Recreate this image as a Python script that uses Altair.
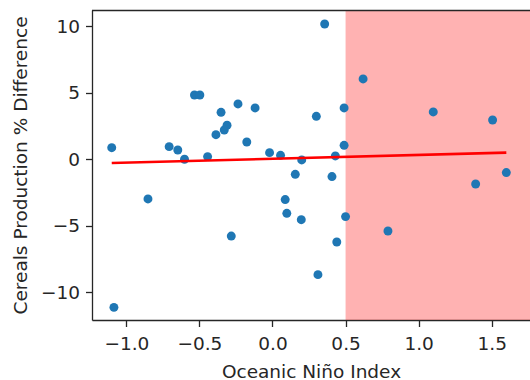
import altair as alt
import pandas as pd

# Oceanic Niño Index values (x) and cereal production % difference (y)
oni = [0.357, -0.534, -0.497, -0.236, -0.119, -0.352, 0.30, 0.49, -0.311, -0.33,
       -0.387, -0.176, -1.10, -0.707, -0.648, -0.602, -0.444, -0.02, 0.055, 0.20,
       0.43, 0.49, 0.156, 0.407, -0.852, 0.087, 0.098, 0.197, 0.50, -0.282,
       0.44, 0.311, -1.085, 0.62, 1.10, 1.506, 1.60, 1.39, 0.79]
cereal_diff = [10.17, 4.83, 4.83, 4.16, 3.86, 3.53, 3.23, 3.86, 2.56, 2.2,
               1.85, 1.30, 0.87, 0.95, 0.70, 0.0, 0.2, 0.5, 0.3, -0.05,
               0.25, 1.05, -1.13, -1.3, -2.98, -3.03, -4.06, -4.54, -4.31, -5.77,
               -6.22, -8.67, -11.13, 6.04, 3.56, 2.95, -1.0, -1.86, -5.39]

# El Niño shaded region
band_start = [0.5]
band_end = [1.9]

x_ticks = [-1.0, -0.5, 0.0, 0.5, 1.0, 1.5]
y_ticks = [-10, -5, 0, 5, 10]

W, H = 438, 310

df = pd.DataFrame({"oni": oni, "diff": cereal_diff})
band_df = pd.DataFrame({"x0": band_start, "x1": band_end})

xscale = alt.Scale(domain=[-1.235, 1.762], nice=False, zero=False)
yscale = alt.Scale(domain=[-12.08, 11.22], nice=False, zero=False)

FONT = "DejaVu Sans"
FS = 18.5
INK = "#262626"

xaxis = alt.Axis(values=x_ticks, format=".1f", grid=False, tickSize=6.5, labelPadding=8,
                 labelFontSize=FS, titleFontSize=FS, titlePadding=9,
                 labelColor=INK, titleColor=INK, domainColor=INK, tickColor=INK,
                 domainWidth=1.3, tickWidth=1.3,
                 labelFont=FONT, titleFont=FONT, titleFontWeight="normal")
yaxis = alt.Axis(values=y_ticks, format="d", grid=False, tickSize=6.5, labelPadding=6,
                 labelFontSize=FS, titleFontSize=FS, titlePadding=10,
                 labelColor=INK, titleColor=INK, domainColor=INK, tickColor=INK,
                 domainWidth=1.3, tickWidth=1.3,
                 labelFont=FONT, titleFont=FONT, titleFontWeight="normal")

band = alt.Chart(band_df).mark_rect(color="red", opacity=0.3, clip=True).encode(
    x=alt.X("x0:Q", scale=xscale, axis=xaxis, title="Oceanic Niño Index"),
    x2="x1:Q",
    y=alt.value(0),
    y2=alt.value(H),
)

points = alt.Chart(df).mark_circle(color="#1f77b4", opacity=1, size=80).encode(
    x=alt.X("oni:Q", scale=xscale),
    y=alt.Y("diff:Q", scale=yscale, axis=yaxis, title="Cereals Production % Difference"),
)

reg = alt.Chart(df).transform_regression("oni", "diff").mark_line(color="red", strokeWidth=2.6).encode(
    x=alt.X("oni:Q", scale=xscale),
    y=alt.Y("diff:Q", scale=yscale),
)

top = alt.Chart(band_df).mark_rule(color=INK, strokeWidth=1.3).encode(
    x=alt.value(0), x2=alt.value(W), y=alt.value(0.5)
)

chart = alt.layer(band, points, reg, top).properties(
    width=W, height=H,
    autosize=alt.AutoSizeParams(type="none"),
    padding={"left": 92, "top": 10, "right": 0, "bottom": 60},
).configure_view(stroke=None).configure(background="white")

chart.save("out.html", embed_options={"renderer": "svg", "actions": False})
